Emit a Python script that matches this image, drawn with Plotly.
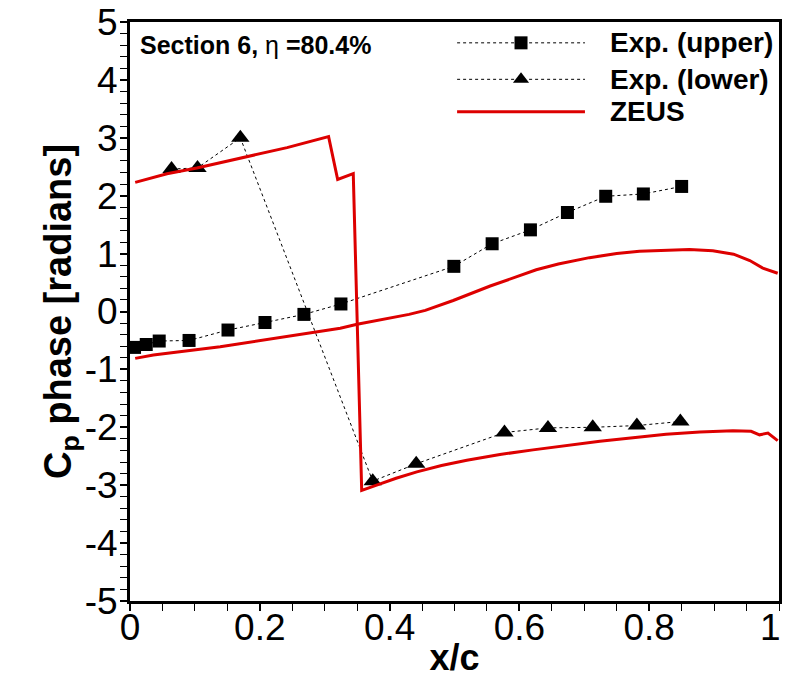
import plotly.graph_objects as go

# Experimental Cp phase, upper surface (squares)
x_exp_upper = [0.007, 0.025, 0.045, 0.091, 0.151, 0.208, 0.268, 0.325,
               0.499, 0.558, 0.617, 0.674, 0.733, 0.791, 0.850]
phase_exp_upper = [-0.62, -0.57, -0.51, -0.50, -0.32, -0.19, -0.05, 0.13,
                   0.78, 1.17, 1.41, 1.71, 1.99, 2.03, 2.16]

# Experimental Cp phase, lower surface (triangles)
x_exp_lower = [0.064, 0.104, 0.170, 0.374, 0.441, 0.577, 0.644, 0.713, 0.781, 0.848]
phase_exp_lower = [2.46, 2.48, 3.00, -2.93, -2.63, -2.09, -2.01, -2.00, -1.97, -1.90]

# ZEUS prediction, upper surface
x_zeus_upper = [0.008, 0.036, 0.139, 0.242, 0.324, 0.350, 0.400, 0.430, 0.455, 0.475,
                0.498, 0.555, 0.626, 0.660, 0.708, 0.750, 0.785, 0.862, 0.898, 0.930,
                0.955, 0.975, 0.998]
phase_zeus_upper = [-0.81, -0.75, -0.61, -0.43, -0.29, -0.22, -0.11, -0.05, 0.02, 0.10,
                    0.19, 0.44, 0.72, 0.82, 0.93, 1.00, 1.04, 1.07, 1.05, 0.99,
                    0.88, 0.75, 0.66]

# ZEUS prediction, lower surface
x_zeus_lower = [0.008, 0.057, 0.103, 0.180, 0.242, 0.306, 0.320, 0.344, 0.357,
                0.380, 0.410, 0.442, 0.480, 0.519, 0.570, 0.621, 0.673, 0.724,
                0.775, 0.826, 0.878, 0.929, 0.957, 0.970, 0.983, 0.998]
phase_zeus_lower = [2.23, 2.38, 2.48, 2.68, 2.83, 3.02, 2.28, 2.38, -3.09,
                    -3.00, -2.88, -2.77, -2.66, -2.57, -2.47, -2.39, -2.31, -2.24,
                    -2.18, -2.12, -2.08, -2.06, -2.07, -2.13, -2.10, -2.23]

legend_labels = ["Exp. (upper)", "Exp. (lower)", "ZEUS"]

# x tick labels; the last one sits flush with the right frame edge
x_ticks = [0, 0.2, 0.4, 0.6, 0.8]
x_ticktext = ["0", "0.2", "0.4", "0.6", "0.8"]
x_last_tick = 1
x_last_text = "1"
y_ticks = [-5, -4, -3, -2, -1, 0, 1, 2, 3, 4, 5]
y_ticktext = ["-5", "-4", "-3", "-2", "-1", "0", "1", "2", "3", "4", "5"]

RED = "#dd0000"
FONT = "Liberation Sans, Arial, sans-serif"
TICK_SIZE = 37

fig = go.Figure()

exp_line = dict(color="black", width=1, dash="3px,3px")

fig.add_trace(go.Scatter(
    x=x_exp_upper, y=phase_exp_upper, mode="lines+markers",
    line=exp_line, marker=dict(symbol="square", size=13, color="black"),
    showlegend=False))

fig.add_trace(go.Scatter(
    x=x_exp_lower, y=phase_exp_lower, mode="lines+markers",
    line=exp_line, marker=dict(symbol="triangle-up", size=16, color="black"),
    showlegend=False))

fig.add_trace(go.Scatter(
    x=x_zeus_upper + [None] + x_zeus_lower,
    y=phase_zeus_upper + [None] + phase_zeus_lower,
    mode="lines", line=dict(color=RED, width=3), showlegend=False))

# Hand-drawn key in the upper right corner (long sample lines)
key_x0, key_x1, key_text_x = 0.504, 0.701, 0.736
key_rows = [4.64, 4.01, 3.45]
key_styles = [
    dict(line=exp_line, marker=dict(symbol="square", size=13, color="black")),
    dict(line=exp_line, marker=dict(symbol="triangle-up", size=14, color="black")),
    dict(line=dict(color=RED, width=3), marker=None),
]
for label, yk, st in zip(legend_labels, key_rows, key_styles):
    fig.add_trace(go.Scatter(
        x=[key_x0, key_x1], y=[yk, yk], mode="lines", line=st["line"],
        showlegend=False, hoverinfo="skip"))
    if st["marker"] is not None:
        fig.add_trace(go.Scatter(
            x=[(key_x0 + key_x1) / 2], y=[yk], mode="markers",
            marker=st["marker"], showlegend=False, hoverinfo="skip"))
    fig.add_annotation(
        x=key_text_x, y=yk, xref="x", yref="y", text="<b>%s</b>" % label,
        showarrow=False, xanchor="left", yanchor="middle",
        font=dict(family=FONT, size=28, color="black"))

fig.add_annotation(
    x=0.012, y=4.6, xref="x", yref="y",
    text="<b>Section 6, </b>η<b> =80.4%</b>",
    showarrow=False, xanchor="left", yanchor="middle",
    font=dict(family=FONT, size=25, color="black"))

# Label for the final x tick, right-aligned so it stays inside the page
fig.add_annotation(
    x=x_last_tick, y=0, xref="x", yref="paper", text=x_last_text,
    showarrow=False, xanchor="right", yanchor="middle", xshift=4, yshift=-26,
    font=dict(family=FONT, size=TICK_SIZE, color="black"))

axis_common = dict(
    showline=True, linecolor="black", linewidth=3, mirror=True,
    showgrid=False, zeroline=False,
    ticks="outside", ticklen=7, tickwidth=2, tickcolor="black",
    tickfont=dict(family=FONT, size=TICK_SIZE, color="black"),
    ticklabeloverflow="allow",
)

fig.update_xaxes(
    range=[0, 1], tickmode="array", tickvals=x_ticks, ticktext=x_ticktext,
    ticklabelstandoff=-15,
    minor=dict(tickmode="array", tickvals=[i * 0.05 for i in range(21)],
               ticks="outside", ticklen=7, tickwidth=1, tickcolor="black"),
    title=dict(text="<b>x/c</b>", font=dict(family=FONT, size=36, color="black"), standoff=6),
    **axis_common)

fig.update_yaxes(
    range=[-5, 5], tickmode="array", tickvals=y_ticks, ticktext=y_ticktext,
    ticklabelstandoff=-5,
    minor=dict(dtick=0.2, ticks="outside", ticklen=7, tickwidth=1, tickcolor="black"),
    title=dict(text="<b>C<sub>p</sub> phase [radians]</b>",
               font=dict(family=FONT, size=38, color="black"), standoff=0),
    **axis_common)

fig.update_layout(
    width=785, height=678,
    margin=dict(l=130, r=6, t=22, b=77, autoexpand=False),
    paper_bgcolor="white", plot_bgcolor="white",
    showlegend=False,
)

fig.write_html("out.html")
